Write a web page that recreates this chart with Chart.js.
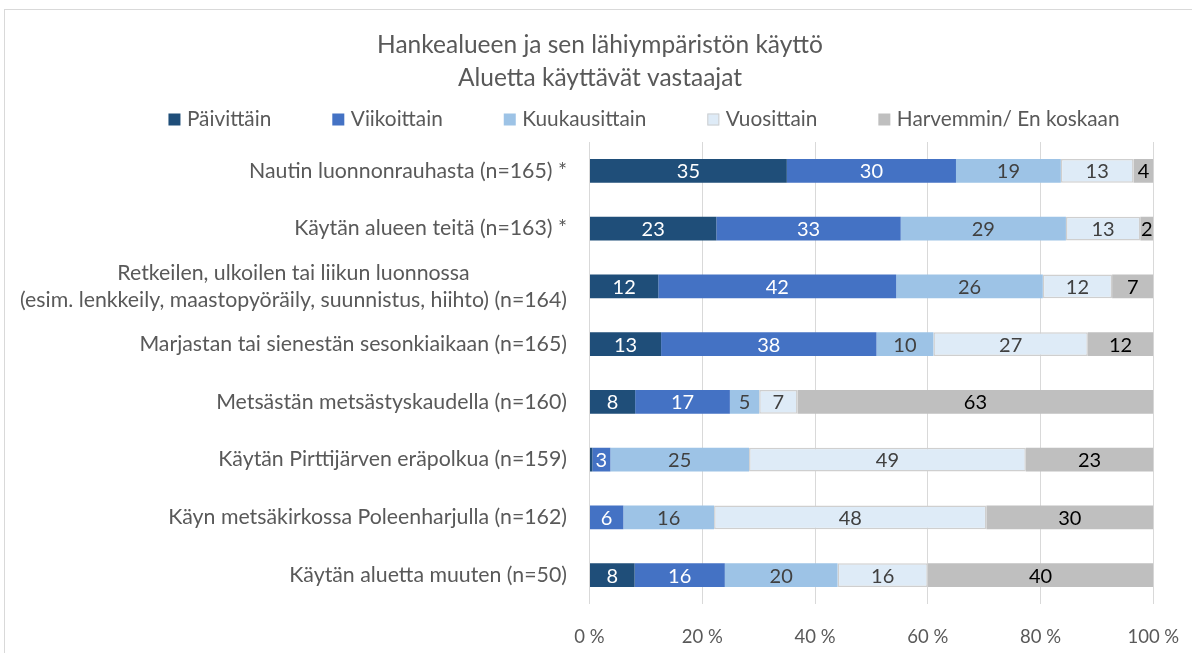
<!DOCTYPE html>
<html><head><meta charset="utf-8">
<script src="https://cdn.jsdelivr.net/npm/chart.js@4.4.1/dist/chart.umd.min.js"></script>
<style>html,body{margin:0;padding:0;background:#fff;}#wrap{position:relative;width:1192px;height:653px;}</style>
</head><body><div id="wrap"><canvas id="c" width="1192" height="653"></canvas></div>
<script>
const titleLines = ['Hankealueen ja sen lähiympäristön käyttö', 'Aluetta käyttävät vastaajat'];
const categories = [
  ['Nautin luonnonrauhasta (n=165) *'],
  ['Käytän alueen teitä (n=163) *'],
  ['Retkeilen, ulkoilen tai liikun luonnossa', '(esim. lenkkeily, maastopyöräily, suunnistus, hiihto) (n=164)'],
  ['Marjastan tai sienestän sesonkiaikaan (n=165)'],
  ['Metsästän metsästyskaudella (n=160)'],
  ['Käytän Pirttijärven eräpolkua (n=159)'],
  ['Käyn metsäkirkossa Poleenharjulla (n=162)'],
  ['Käytän aluetta muuten (n=50)']
];
const seriesNames = ['Päivittäin', 'Viikoittain', 'Kuukausittain', 'Vuosittain', 'Harvemmin/ En koskaan'];
const paivittain    = [35.0, 22.5, 12.2, 12.7,  8.1,  0.5,  0.0,  8];
const viikoittain   = [30.0, 32.7, 42.2, 38.2, 16.8,  3.2,  6.0, 16];
const kuukausittain = [18.6, 29.3, 26.0, 10.1,  5.2, 24.6, 16.1, 20];
const vuosittain    = [12.9, 13.2, 12.3, 27.4,  6.8, 49.1, 48.3, 16];
const harvemmin     = [ 3.5,  2.3,  7.3, 11.6, 63.1, 22.6, 29.6, 40];
const xTickValues = [0, 20, 40, 60, 80, 100];

const FONT = 'Lato';
const GREY = '#595959';
const colors = ['#1f4e79', '#4472c4', '#9dc3e6', '#deebf7', '#bfbfbf'];
const labelColors = ['#ffffff', '#ffffff', '#404040', '#404040', '#000000'];
const seriesData = [paivittain, viikoittain, kuukausittain, vuosittain, harvemmin];

const datasets = seriesNames.map((name, i) => ({
  label: name,
  data: seriesData[i],
  backgroundColor: colors[i],
  borderColor: i === 3 ? '#cfcfcf' : colors[i],
  borderWidth: i === 3 ? 1.5 : 0,
  borderSkipped: false,
  categoryPercentage: 1,
  barPercentage: 0.41
}));

const framePlugin = {
  id: 'frame',
  beforeDraw(chart) {
    const ctx = chart.ctx;
    ctx.save();
    ctx.strokeStyle = '#d9d9d9';
    ctx.lineWidth = 1;
    ctx.strokeRect(4.5, 9.5, 1300, 1000);
    ctx.restore();
  }
};

const valueLabels = {
  id: 'valueLabels',
  afterDatasetsDraw(chart) {
    const ctx = chart.ctx;
    ctx.save();
    ctx.font = `20px ${FONT}`;
    ctx.textAlign = 'center';
    ctx.textBaseline = 'middle';
    chart.data.datasets.forEach((ds, di) => {
      const meta = chart.getDatasetMeta(di);
      meta.data.forEach((el, i) => {
        const v = ds.data[i];
        if (v < 1) return;
        ctx.fillStyle = labelColors[di];
        ctx.fillText(String(Math.round(v)), (el.x + el.base) / 2, el.y + 1);
      });
    });
    ctx.restore();
  }
};

const textPlugin = {
  id: 'texts',
  afterDraw(chart) {
    const ctx = chart.ctx;
    ctx.save();
    // title
    ctx.fillStyle = GREY;
    ctx.font = `24.5px ${FONT}`;
    ctx.textAlign = 'center';
    ctx.textBaseline = 'middle';
    ctx.fillText(titleLines[0], 600, 45);
    ctx.fillText(titleLines[1], 600, 78);
    // legend
    ctx.font = `20.8px ${FONT}`;
    const gap = 61, box = 12, tgap = 18.5;
    const widths = chart.data.datasets.map(ds => ctx.measureText(ds.label).width);
    const total = widths.reduce((a, b) => a + b, 0) + chart.data.datasets.length * tgap + gap * (chart.data.datasets.length - 1);
    let x = 644 - total / 2;
    const yc = 119.5;
    chart.data.datasets.forEach((ds, i) => {
      ctx.fillStyle = ds.backgroundColor;
      ctx.fillRect(x, yc - 6, box, box);
      if (ds.borderWidth) {
        ctx.strokeStyle = ds.borderColor;
        ctx.lineWidth = 1;
        ctx.strokeRect(x + 0.5, yc - 5.5, box - 1, box - 1);
      }
      ctx.fillStyle = GREY;
      ctx.textAlign = 'left';
      ctx.fillText(ds.label, x + tgap, yc);
      x += tgap + widths[i] + gap;
    });
    // category labels
    const ys = chart.scales.y;
    ctx.font = `21.3px ${FONT}`;
    ctx.fillStyle = GREY;
    ctx.textAlign = 'center';
    categories.forEach((lines, i) => {
      const yc2 = ys.getPixelForTick(i);
      const maxW = Math.max(...lines.map(l => ctx.measureText(l).width));
      const cx = 567 - maxW / 2;
      lines.forEach((l, j) => {
        ctx.fillText(l, cx, yc2 + (j - (lines.length - 1) / 2) * 27);
      });
    });
    ctx.restore();
  }
};

new Chart(document.getElementById('c'), {
  type: 'bar',
  data: { labels: categories, datasets },
  options: {
    indexAxis: 'y',
    responsive: false,
    animation: false,
    layout: { padding: { top: 142, right: 38.7, left: 0, bottom: 0 } },
    plugins: { legend: { display: false }, title: { display: false }, tooltip: { enabled: false } },
    scales: {
      x: {
        stacked: true,
        min: 0, max: 100,
        afterBuildTicks(scale) { scale.ticks = xTickValues.map(v => ({ value: v })); },
        afterFit(scale) { scale.height = 49; scale.paddingLeft = 0; scale.paddingRight = 0; },
        grid: { color: '#d9d9d9', lineWidth: 1, drawTicks: false },
        border: { display: false },
        ticks: { color: GREY, font: { family: FONT, size: 18.5 }, padding: 22, callback: v => v + ' %' }
      },
      y: {
        stacked: true,
        afterFit(scale) { scale.width = 589.5; },
        grid: { display: false },
        border: { display: false },
        ticks: { display: false }
      }
    }
  },
  plugins: [framePlugin, valueLabels, textPlugin]
});
</script></body></html>
